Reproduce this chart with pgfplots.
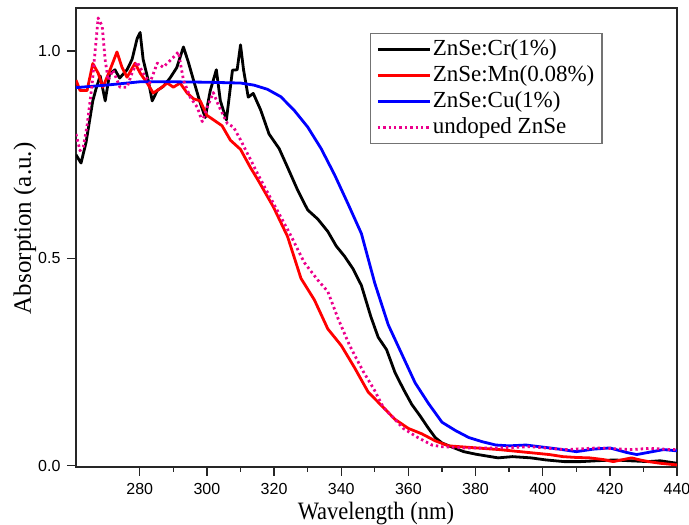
\documentclass[border=0pt]{standalone}
\usepackage{fontspec}
\setmainfont{Liberation Serif}
\newfontfamily\condfont{Liberation Serif}[FakeStretch=0.9]
\newfontfamily\tickfont{Liberation Sans}
\usepackage{pgfplots}
\pgfplotsset{compat=1.18}
\begin{document}
\begin{tikzpicture}
\begin{axis}[
 name=ax,
 scale only axis, width=601pt, height=459pt,
 xmin=261, xmax=440, ymin=-0.003, ymax=1.104,
 xtick={280,300,...,440}, minor x tick num=1,
 ytick={0,0.5,1.0}, yticklabels={0.0,0.5,1.0},
 tick align=outside, tick pos=left,
 major tick length=9pt, minor tick length=5pt,
 /pgf/number format/assume math mode=true,
 ticklabel style={font=\fontsize{16}{16}\selectfont\tickfont},
 xticklabel style={yshift=-4pt},
 yticklabel style={xshift=-3pt},
 xlabel={Wavelength (nm)}, ylabel={Absorption (a.u.)},
 xlabel style={font=\fontsize{25}{25}\selectfont\condfont, at={(axis description cs:0.499,-0.101)}, anchor=center, inner sep=0pt},
 ylabel style={font=\fontsize{25}{25}\selectfont, at={(axis description cs:-0.085,0.52)}, anchor=center},
 axis line style={line width=1.4pt, black!85},
 every tick/.style={line width=1.3pt, black!85},
 legend style={at={(0.489,0.9455)}, anchor=north west, draw=black!55, line width=1.2pt,
   font=\fontsize{23}{23}\selectfont, row sep=0pt, inner xsep=6pt, inner ysep=3pt,
   nodes={inner sep=1.5pt, text height=17pt, text depth=6pt}},
 legend cell align=left,
 legend image code/.code={\draw[#1] (0pt,0pt) -- (52pt,0pt);},
 every axis plot/.append style={line width=2.8pt, line join=round},
]
\addplot[black] coordinates {
(261,0.75)(262.5,0.73)(264,0.78)(266,0.88)(267,0.91)(268.2,0.94)(269.7,0.88)(271,0.945)
(272.6,0.955)(274,0.935)(276.2,0.955)(277.7,0.98)(279.2,1.03)(280.1,1.045)(281,0.98)
(282.5,0.93)(283.7,0.88)(285.2,0.905)(287,0.915)(289,0.935)(291,0.96)(293,1.01)(294.4,0.975)
(296,0.93)(298,0.875)(299.5,0.84)(301,0.905)(302.8,0.955)(304,0.88)(305.8,0.834)(307.6,0.954)
(309,0.955)(310,1.015)(310.9,0.955)(312.3,0.889)(313.8,0.898)(316,0.858)(318.5,0.80)
(321.5,0.765)(324,0.72)(327,0.665)(330,0.617)(333,0.595)(336,0.565)(338.5,0.53)(341,0.505)
(343.5,0.475)(346,0.435)(348.8,0.36)(351,0.31)(353.5,0.28)(356,0.225)(358.5,0.185)(361,0.148)
(363.5,0.12)(366,0.09)(368,0.068)(370,0.055)(373,0.045)(376.5,0.034)(380,0.028)(386.7,0.019)
(391,0.022)(396.5,0.019)(401,0.014)(406.4,0.01)(411.4,0.01)(416,0.012)(421.3,0.014)(426,0.012)
(431.4,0.01)(435,0.012)(440,0.006)};
\addlegendentry{ZnSe:Cr(1\%)}
\addplot[red] coordinates {
(261,0.93)(262.2,0.905)(264.3,0.905)(266,0.97)(267.6,0.947)(269,0.913)(271.1,0.954)(273.2,0.998)
(274.7,0.961)(276.2,0.937)(278.6,0.971)(280.1,0.947)(282.2,0.923)(284,0.899)(286.1,0.91)
(288.2,0.923)(290,0.913)(292,0.923)(294.1,0.899)(296,0.885)(298,0.88)(300,0.845)(302,0.834)
(304.5,0.82)(307,0.785)(310,0.763)(312.9,0.72)(315.5,0.685)(319.8,0.624)(324,0.553)(328,0.452)
(332,0.4)(336,0.33)(340,0.29)(344,0.236)(348,0.178)(352,0.145)(356,0.112)(360,0.09)(364,0.077)
(368,0.06)(372,0.048)(377,0.045)(382,0.042)(387,0.039)(392,0.035)(397,0.031)(402,0.027)
(406,0.022)(410,0.02)(414,0.019)(418,0.015)(421,0.01)(424,0.015)(426.5,0.019)(429,0.014)
(431.5,0.01)(435,0.006)(440,0.002)};
\addlegendentry{ZnSe:Mn(0.08\%)}
\addplot[blue] coordinates {
(261,0.912)(270,0.918)(280,0.926)(290,0.926)(300,0.925)(310,0.923)(314,0.918)(318,0.908)
(322,0.89)(326,0.857)(330,0.817)(334,0.765)(338,0.702)(342,0.632)(346,0.56)(350,0.44)
(354,0.34)(358,0.27)(362,0.20)(366,0.15)(370,0.105)(374,0.085)(378,0.068)(382,0.058)
(386,0.05)(390,0.048)(395,0.05)(400,0.045)(405,0.04)(410,0.034)(415,0.04)(420,0.043)
(425,0.032)(428,0.027)(432,0.033)(436,0.039)(440,0.036)};
\addlegendentry{ZnSe:Cu(1\%)}
\addplot[magenta, line cap=butt, dash pattern=on 2.4pt off 3pt, line width=2.8pt] coordinates {
(261,0.80)(262.2,0.76)(263.2,0.77)(264.3,0.82)(265.8,0.92)(266.7,1.0)(267.6,1.08)(268.8,1.06)
(269.7,0.978)(270.6,0.93)(272,0.954)(274.1,0.913)(276.2,0.913)(277.7,0.947)(279.2,0.974)
(281,0.947)(283,0.923)(285.2,0.971)(287,0.961)(288.2,0.971)(290,0.985)(291.5,0.998)(293,0.93)
(295,0.889)(297.1,0.865)(298.6,0.83)(300.1,0.865)(301.9,0.9)(303.4,0.87)(306.1,0.825)
(307.9,0.817)(310,0.786)(312,0.754)(316,0.69)(320,0.63)(325,0.555)(329,0.49)(333,0.448)
(336,0.42)(339,0.356)(342.5,0.29)(346.5,0.228)(349.7,0.185)(352.6,0.14)(355.6,0.115)
(358.5,0.09)(362.8,0.068)(367,0.05)(370,0.046)(376.5,0.043)(386.7,0.043)(396.5,0.046)
(406.4,0.039)(416.5,0.043)(426.4,0.039)(432,0.042)(438.3,0.039)(440,0.039)};
\addlegendentry{undoped ZnSe}
\end{axis}
\pgfresetboundingbox
\path ([shift={(-76pt,-58pt)}]ax.south west) rectangle ([shift={(12pt,8pt)}]ax.north east);
\end{tikzpicture}
\end{document}
